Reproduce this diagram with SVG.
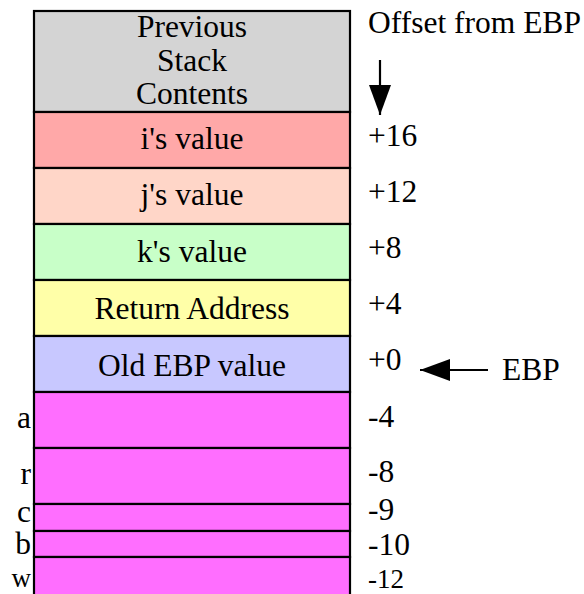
<svg xmlns="http://www.w3.org/2000/svg" width="584" height="594" viewBox="0 0 584 594">
<style>
.cell{stroke:#000;stroke-width:2.2}
text{font-family:"Liberation Serif","Times New Roman",serif;font-size:31.5px;fill:#000}
.c{text-anchor:middle}
.r{text-anchor:end}
.s{font-size:27px}
.line{stroke:#000;stroke-width:2.2;fill:none}
</style>
<defs>
<marker id="ah" markerWidth="32" markerHeight="24" refX="30" refY="11" orient="auto" markerUnits="userSpaceOnUse">
<path d="M0,0 L30,11 L0,22 Z" fill="#000"/>
</marker>
</defs>
<rect x="0" y="0" width="584" height="594" fill="#fff"/>
<g id="prev">
<rect class="cell" x="34" y="11" width="316" height="101" fill="#d4d4d4"/>
<text class="c" x="192" y="37">Previous</text>
<text class="c" x="192" y="71">Stack</text>
<text class="c" x="192" y="104">Contents</text>
</g>
<g id="i">
<rect class="cell" x="34" y="112" width="316" height="56" fill="#ffa8a8"/>
<text class="c" x="192" y="149">i's value</text>
<text x="368" y="146">+16</text>
</g>
<g id="j">
<rect class="cell" x="34" y="168" width="316" height="56" fill="#ffd6c8"/>
<text class="c" x="192" y="205">j's value</text>
<text x="368" y="202">+12</text>
</g>
<g id="k">
<rect class="cell" x="34" y="224" width="316" height="56" fill="#c8ffc8"/>
<text class="c" x="192" y="262">k's value</text>
<text x="368" y="258">+8</text>
</g>
<g id="ret">
<rect class="cell" x="34" y="280" width="316" height="56" fill="#ffffa8"/>
<text class="c" x="192" y="319">Return Address</text>
<text x="368" y="314">+4</text>
</g>
<g id="oldebp">
<rect class="cell" x="34" y="336" width="316" height="56" fill="#c8c8ff"/>
<text class="c" x="192" y="376">Old EBP value</text>
<text x="368" y="370">+0</text>
</g>
<g id="a">
<rect class="cell" x="34" y="392" width="316" height="56" fill="#ff6eff"/>
<text class="r" x="31" y="428">a</text>
<text x="368" y="427">-4</text>
</g>
<g id="rr">
<rect class="cell" x="34" y="448" width="316" height="56" fill="#ff6eff"/>
<text class="r" x="31" y="484">r</text>
<text x="368" y="482">-8</text>
</g>
<g id="c">
<rect class="cell" x="34" y="504" width="316" height="27" fill="#ff6eff"/>
<text class="r" x="31" y="522">c</text>
<text x="368" y="520">-9</text>
</g>
<g id="b">
<rect class="cell" x="34" y="531" width="316" height="26" fill="#ff6eff"/>
<text class="r" x="31" y="554">b</text>
<text x="368" y="555">-10</text>
</g>
<g id="w">
<rect class="cell" x="34" y="557" width="316" height="50" fill="#ff6eff"/>
<text class="r s" x="31" y="587">w</text>
<text class="s" x="368" y="588">-12</text>
</g>
<g id="offset">
<text x="368" y="33">Offset from EBP</text>
</g>
<g id="ebp">
<text x="502" y="380">EBP</text>
</g>
<g id="connectors">
<line class="line" x1="380" y1="60" x2="380" y2="115" marker-end="url(#ah)"/>
<line class="line" x1="488" y1="370" x2="420" y2="370" marker-end="url(#ah)"/>
</g>
</svg>
